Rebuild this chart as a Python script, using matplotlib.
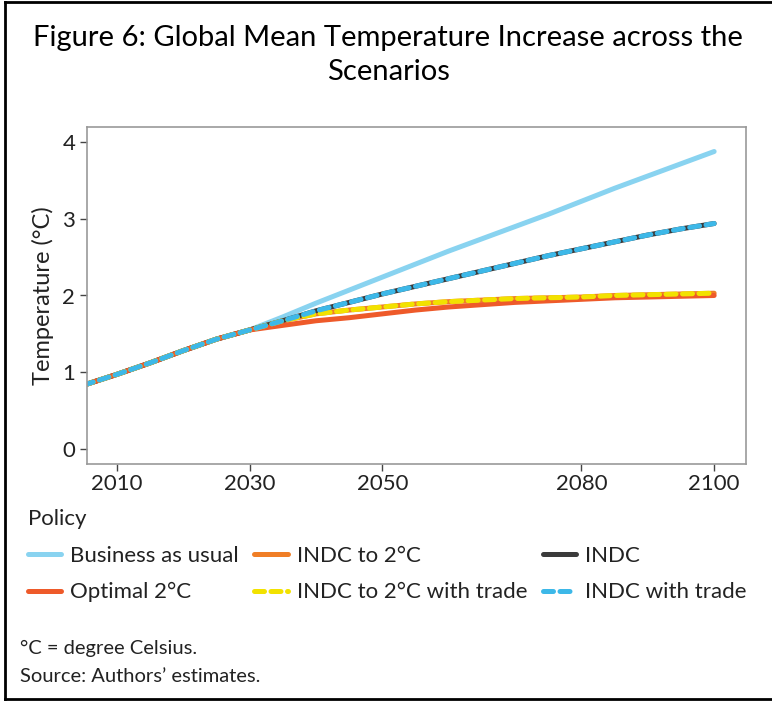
import matplotlib
matplotlib.use("Agg")
import matplotlib.pyplot as plt
from matplotlib.lines import Line2D

plt.rcParams['font.family'] = ['Lato', 'DejaVu Sans']

years = [2005, 2010, 2015, 2020, 2025, 2030, 2035, 2040, 2045, 2050, 2055, 2060,
         2065, 2070, 2075, 2080, 2085, 2090, 2095, 2100]
common = [0.83, 0.97, 1.12, 1.28, 1.43, 1.55]
bau_tail = [1.72, 1.90, 2.07, 2.24, 2.41, 2.58, 2.74, 2.90, 3.06, 3.23, 3.40, 3.56, 3.72, 3.88]
indc_tail = [1.67, 1.80, 1.91, 2.02, 2.12, 2.22, 2.32, 2.42, 2.52, 2.61, 2.70, 2.79, 2.87, 2.94]
indc2_tail = [1.67, 1.76, 1.81, 1.85, 1.89, 1.92, 1.94, 1.96, 1.97, 1.98, 2.00, 2.01, 2.02, 2.03]
opt_tail = [1.61, 1.67, 1.71, 1.76, 1.81, 1.85, 1.88, 1.91, 1.93, 1.95, 1.97, 1.98, 1.99, 2.00]

bau = common + bau_tail
indc = common + indc_tail
indc2 = common + indc2_tail
opt = common + opt_tail
indc2_trade = indc2
indc_trade = indc

xticks = [2010, 2030, 2050, 2080, 2100]
yticks = [0, 1, 2, 3, 4]

W, H = 772, 702
fig = plt.figure(figsize=(W / 100, H / 100), dpi=100)
ax = fig.add_axes([87 / W, 1 - 464 / H, (746 - 87) / W, (464 - 127) / H])

lw = 3.6
dash = (2.0, 1.3)
h_bau, = ax.plot(years, bau, color='#89D3F0', lw=lw, solid_capstyle='round', label='Business as usual')
h_i2, = ax.plot(years, indc2, color='#F07E26', lw=lw, solid_capstyle='round', label='INDC to 2°C')
h_i, = ax.plot(years, indc, color='#3B3B3B', lw=lw, solid_capstyle='round', label='INDC')
h_opt, = ax.plot(years, opt, color='#EE5A2A', lw=lw, solid_capstyle='round', label='Optimal 2°C')
h_i2t, = ax.plot(years, indc2_trade, color='#F2E200', lw=lw, dashes=dash, dash_capstyle='round',
                 label='INDC to 2°C with trade')
h_it, = ax.plot(years, indc_trade, color='#3DB8E8', lw=lw, dashes=dash, dash_capstyle='round',
                label='INDC with trade')

ax.set_xlim(2005.5, 2104.8)
ax.set_ylim(-0.2, 4.2)
ax.set_xticks(xticks)
ax.set_yticks(yticks)
ax.tick_params(colors='#444444', labelcolor='#222222', labelsize=16, length=5, width=1)
ax.tick_params(axis='x', pad=2.5)
for s in ax.spines.values():
    s.set_color('#999999')
    s.set_linewidth(1.2)
ax.set_ylabel('Temperature (°C)', fontsize=17, color='#222222', labelpad=6)

fig.text(388 / W, 1 - 38 / H, 'Figure 6: Global Mean Temperature Increase across the',
         ha='center', va='center', fontsize=21, color='black')
fig.text(388 / W, 1 - 72 / H, 'Scenarios', ha='center', va='center', fontsize=21, color='black')

handles = [h_bau, h_opt, h_i2, h_i2t, h_i, h_it]
leg = fig.legend(handles=handles, labels=[h.get_label() for h in handles], ncol=3,
                 loc='upper left', bbox_to_anchor=(28 / W, 1 - 509 / H), frameon=False,
                 title='Policy', title_fontsize=16, fontsize=16, alignment='left',
                 handlelength=1.5, handletextpad=0.4, columnspacing=0.7, labelspacing=0.75,
                 borderaxespad=0, borderpad=0)
for t in leg.get_texts():
    t.set_color('#222222')
leg.get_title().set_color('#222222')

fig.text(20 / W, 1 - 648 / H, '°C = degree Celsius.', ha='left', va='center', fontsize=14.5, color='#222222')
fig.text(20 / W, 1 - 676 / H, 'Source: Authors’ estimates.', ha='left', va='center', fontsize=14.5, color='#222222')

bx0, bx1 = 4.5 / W, 1.05
by0, by1 = 1 - 699 / H, 1 - 2 / H
for xs, ys in [([bx0, bx0], [by0, by1]), ([bx0, bx1], [by1, by1]), ([bx0, bx1], [by0, by0])]:
    fig.add_artist(Line2D(xs, ys, transform=fig.transFigure, color='black', linewidth=2))

fig.savefig('out.png', dpi=100)
